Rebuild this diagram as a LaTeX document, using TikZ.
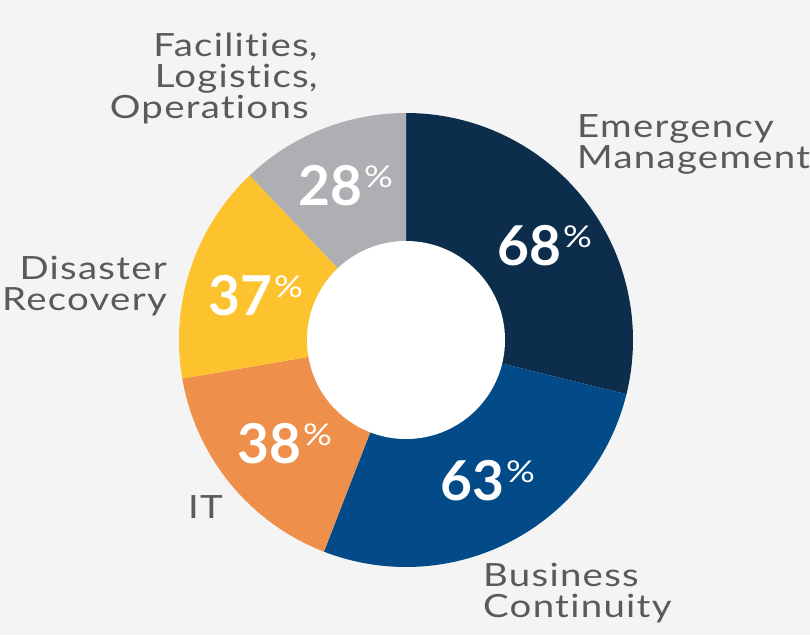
\documentclass[tikz,border=0pt]{standalone}
\usepackage{fontspec}
\setmainfont{Lato}
\newfontfamily\labelfont[FakeStretch=1.2, LetterSpace=4, Ligatures={NoCommon,NoRare,NoContextual}]{Lato}
\usetikzlibrary{calc}
\definecolor{navyseg}{HTML}{0C2D4B}
\definecolor{blueseg}{HTML}{024B88}
\definecolor{orangeseg}{HTML}{EE8F4B}
\definecolor{yellowseg}{HTML}{FDC32F}
\definecolor{grayseg}{HTML}{AEAFB3}
\definecolor{labelgray}{HTML}{5A5A5A}
\definecolor{paper}{HTML}{F4F4F4}
\newcommand{\pcnt}[1]{#1\hspace{2pt}\raisebox{18pt}{\labelfont\mdseries\fontsize{30}{30}\selectfont\%}}

\begin{document}
\begin{tikzpicture}[x=1pt, y=1pt,
  lbl/.style={text=labelgray, font=\labelfont\fontsize{32}{31}\selectfont, inner sep=0pt},
  pct/.style={text=white, font=\fontsize{55}{55}\selectfont\bfseries, inner sep=0pt, anchor=base west}]
% paper
\fill[paper] (0,0) rectangle (810,-635);
\useasboundingbox (0,0) rectangle (810,-635);
\coordinate (ctr) at (406,-340);
% ring
\foreach \a/\b/\c in {90/-13.8/navyseg, -13.8/-111.2/blueseg, -111.2/-170.2/orangeseg,
                      -170.2/-226.5/yellowseg, -226.5/-270/grayseg}
  \fill[\c] (ctr) -- ++(\a:227) arc[start angle=\a, end angle=\b, radius=227] -- cycle;
\fill[white] (ctr) circle[radius=99]; % hole
% shares
\node[pct] (p68) at (497,-265) {\pcnt{68}};
\node[pct] (p63) at (440,-500) {\pcnt{63}};
\node[pct] (p38) at (237,-463) {\pcnt{38}};
\node[pct] (p37) at (208,-315) {\pcnt{37}};
\node[pct] (p28) at (298,-205) {\pcnt{28}};
% labels (base = last line)
\node[lbl, align=left, anchor=base west] (em) at (577,-168) {Emergency\\Management};
\node[lbl, align=left, anchor=base west] (bc) at (483,-617) {Business\\Continuity};
\node[lbl, anchor=base west] (it) at (188,-518) {IT};
\node[lbl, align=right, anchor=base east] (dr) at (167,-310) {Disaster\\Recovery};
\node[lbl, align=right, anchor=base east] (fac) at (309,-118) {Facilities\rlap{,}\\Logistics\rlap{,}\\Operations};
\end{tikzpicture}
\end{document}
